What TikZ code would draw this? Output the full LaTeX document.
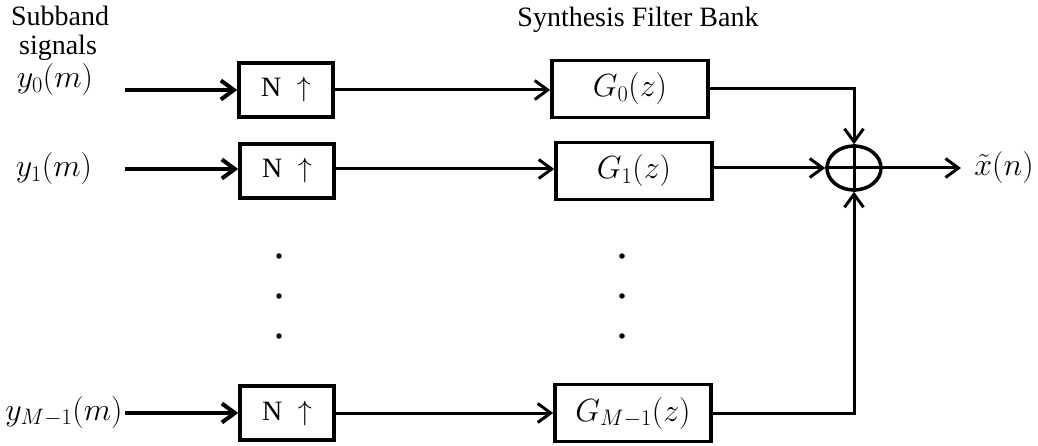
\RequirePackage{fix-cm}
\documentclass[tikz,border=0pt]{standalone}
\usepackage{fontspec}
\setmainfont{Liberation Serif}
\usetikzlibrary{arrows.meta,shapes.geometric}

\begin{document}
\begin{tikzpicture}[x=1pt,y=-1pt,
  txt/.style={font=\fontsize{28}{30}\selectfont, inner sep=0pt},
  mathtxt/.style={font=\fontsize{32}{34}\selectfont, inner sep=0pt},
  upbox/.style={draw, line width=3.5pt, minimum width=94pt, minimum height=54pt,
    inner sep=0pt, font=\fontsize{28}{30}\selectfont},
  filt/.style={draw, line width=3.5pt, minimum width=156pt, minimum height=57pt,
    inner sep=0pt, font=\fontsize{32}{34}\selectfont},
  summer/.style={draw, ellipse, line width=3.5pt, minimum width=54pt, minimum height=44pt, inner sep=0pt},
  tip/.style={-{Straight Barb[length=13pt,width=19pt]}},
  inarrow/.style={tip, line width=4pt},
  wire/.style={line width=3pt},
  dotmark/.style={circle, fill, inner sep=0pt, minimum size=5.5pt}
]
\useasboundingbox (0,0) rectangle (1038,446);

% headings
\node[txt, anchor=base] (hdA) at (60,26) {Subband};
\node[txt, anchor=base] (hdB) at (58,55) {signals};
\node[txt, anchor=base] (hdC) at (638,27) {Synthesis Filter Bank};

% input signal labels
\node[mathtxt] (y0) at (55,80) {$y_0(m)$};
\node[mathtxt] (y1) at (54,169) {$y_1(m)$};
\node[mathtxt] (yM) at (64,412) {$y_{M-1}(m)$};

\coordinate (i0) at (125,90);
\coordinate (i1) at (125,169);
\coordinate (iM) at (125,413);

% upsamplers
\node[upbox] (n0) at (286,90) {N\hspace{0.55em}$\uparrow$};
\node[upbox] (n1) at (287,171) {N\hspace{0.55em}$\uparrow$};
\node[upbox] (nM) at (287,413) {N\hspace{0.55em}$\uparrow$};

% synthesis filters
\node[filt] (g0) at (630,89) {$G_0(z)$};
\node[filt] (g1) at (634,171) {$G_1(z)$};
\node[filt] (gM) at (633,413) {$G_{M-1}(z)$};

% adder
\node[summer] (sum) at (854,168) {};
\draw[wire] (sum.north) -- (sum.south);
\draw[wire] (sum.west) -- (sum.east);

% output
\coordinate (out) at (961,168);
\node[mathtxt] (xo) at (1004,168) {$\tilde{x}(n)$};

% ellipsis dots
\node[dotmark] (da1) at (279,256) {};
\node[dotmark] (da2) at (279,296) {};
\node[dotmark] (da3) at (279,336) {};
\node[dotmark] (db1) at (622,256) {};
\node[dotmark] (db2) at (622,296) {};
\node[dotmark] (db3) at (622,336) {};

% connections
\draw[inarrow] (i0) -- (n0.west |- i0);
\draw[inarrow] (i1) -- (n1.west |- i1);
\draw[inarrow] (iM) -- (nM.west);

\draw[wire, tip] (n0.east) -- (g0.west |- n0.east);
\draw[wire, tip] (n1.east |- i1) -- (g1.west |- i1);
\draw[wire, tip] (nM.east) -- (gM.west);

\draw[wire, tip] (g0.east) -| (sum.north);
\draw[wire, tip] (g1.east |- sum.west) -- (sum.west);
\draw[wire, tip] (gM.east) -| (sum.south);
\draw[wire, tip] (sum.east) -- (out);
\end{tikzpicture}
\end{document}
